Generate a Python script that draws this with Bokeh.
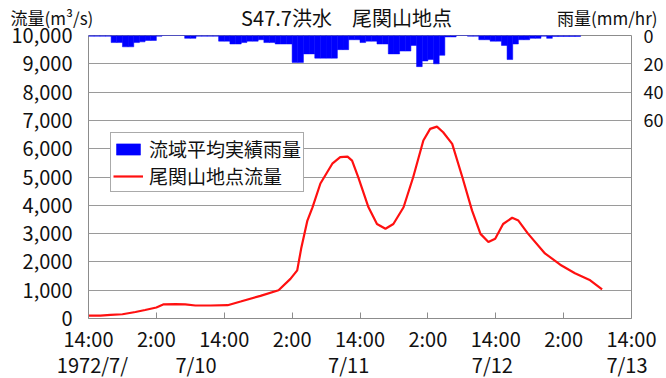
from bokeh.plotting import figure
from bokeh.layouts import column
from bokeh.models import (Range1d, LinearAxis, FixedTicker, NumeralTickFormatter,
                          Legend, LegendItem, ColumnDataSource)
from bokeh.core.properties import value
from bokeh.embed import file_html
from bokeh.resources import INLINE

# ---------------- data ----------------
# hours since 1972/7/9 14:00
flow_hours = [0, 2.1, 3.9, 6, 8.3, 10, 12, 13.3, 15.4, 17.1, 18.9, 21.6, 24.6, 26.9,
              30.4, 33.6, 35.7, 36.9, 37.6, 38.7, 39.6, 41, 43.1, 44.5, 45.8, 46.6,
              47.7, 49.5, 51, 52.5, 53.9, 55.7, 57.4, 59.2, 60.4, 61.6, 62.7, 64.3,
              66.1, 67.8, 69.3, 70.7, 71.9, 73.3, 74.9, 76, 77.7, 80.7, 83.4, 86,
              88.7, 90.8]
flow_values = [100, 100, 130, 150, 230, 300, 390, 500, 510, 500, 460, 460, 470, 600,
               800, 1000, 1400, 1700, 2470, 3460, 3930, 4770, 5470, 5700, 5720, 5580,
               4990, 3930, 3340, 3170, 3340, 3930, 4990, 6290, 6700, 6780, 6580, 6170,
               4990, 3820, 2990, 2700, 2820, 3340, 3560, 3460, 3000, 2300, 1900, 1600,
               1350, 1030]

rain_hours = list(range(0, 87))
rain_values = [0.5, 0.5, 0.5, 0.5, 5, 5, 8, 8, 5, 4.5, 3.5, 3.5, 0.5, 0, 0, 0, 0, 2, 2,
               0.5, 0.5, 0.5, 0.5, 4, 4, 6, 6, 5, 4, 4, 3, 5, 5, 6, 6, 6, 19, 19, 13,
               13, 16, 16, 16, 16, 10, 10, 3, 3, 5, 4, 4, 6, 6, 13, 13, 11, 11, 7, 22,
               18, 17, 20, 14, 1, 1, 0, 0, 0.5, 0.5, 3, 3, 4, 4, 7, 17, 6, 3, 3, 2, 2,
               0.5, 2, 0.7, 0.7, 0.7, 0.7, 0.7]

time_ticks = [0, 12, 24, 36, 48, 60, 72, 84, 96]
time_labels = ["14:00", "2:00", "14:00", "2:00", "14:00", "2:00", "14:00", "2:00", "14:00"]
date_ticks = [0.7, 19, 46, 71.4, 95.2]
date_labels = ["1972/7/", "7/10", "7/11", "7/12", "7/13"]
flow_ticks = list(range(0, 10001, 1000))
rain_ticks = [0, 20, 40, 60]

title_text = "S47.7洪水\u3000尾関山地点"
left_unit = "流量(m³/s)"
right_unit = "雨量(mm/hr)"
rain_name = "流域平均実績雨量"
flow_name = "尾関山地点流量"

FONT = "Noto Sans CJK JP"
FS = "20px"
TXT = "#111111"

# ---------------- header strip (title + units) ----------------
HEAD_H = 40
OVERLAP = 22
head = figure(width=658, height=HEAD_H, output_backend="svg", toolbar_location=None,
              x_range=Range1d(0, 658), y_range=Range1d(0, HEAD_H),
              min_border=0, outline_line_color=None)
try:
    head.frame_align = False
except Exception:
    pass
head.axis.visible = False
head.grid.visible = False
head.text(x=[346], y=[HEAD_H - 17], text=[title_text], text_font=value(FONT),
          text_font_size="20px", text_align="center", text_baseline="middle",
          text_color=TXT)
head.text(x=[10], y=[HEAD_H - 17], text=[left_unit], text_font=value(FONT),
          text_font_size="17px", text_align="left", text_baseline="middle",
          text_color=TXT)
head.text(x=[657], y=[HEAD_H - 17], text=[right_unit], text_font=value(FONT),
          text_font_size="17px", text_align="right", text_baseline="middle",
          text_color=TXT)

# ---------------- main figure ----------------
p = figure(frame_width=543, frame_height=283, output_backend="svg", toolbar_location=None,
           x_range=Range1d(0, 96), y_range=Range1d(0, 10000),
           min_border_left=88, min_border_right=27,
           min_border_top=35 - (HEAD_H - OVERLAP), min_border_bottom=50,
           margin=(-OVERLAP, 0, 0, 0))
try:
    p.frame_align = False
except Exception:
    pass
p.border_fill_color = None
p.extra_y_ranges = {"rain": Range1d(200, 0)}

p.outline_line_color = "#8c8c8c"
p.outline_line_width = 1
p.xgrid.visible = False
p.ygrid.ticker = FixedTicker(ticks=flow_ticks)
p.ygrid.grid_line_color = "#9a9a9a"
p.ygrid.grid_line_width = 1

# left axis
ya = p.yaxis[0]
ya.ticker = FixedTicker(ticks=flow_ticks)
ya.formatter = NumeralTickFormatter(format="0,0")
ya.major_tick_line_color = None
ya.minor_tick_line_color = None
ya.axis_line_color = None
ya.major_label_text_font = FONT
ya.major_label_text_font_size = FS
ya.major_label_text_color = TXT
ya.major_label_standoff = 10

# right axis
ra = LinearAxis(y_range_name="rain", ticker=FixedTicker(ticks=rain_ticks))
ra.major_tick_line_color = None
ra.minor_tick_line_color = None
ra.axis_line_color = None
ra.major_label_text_font = FONT
ra.major_label_text_font_size = "18px"
ra.major_label_text_color = TXT
ra.major_label_standoff = 6
p.add_layout(ra, "right")

# bottom time axis
xa = p.xaxis[0]
xa.ticker = FixedTicker(ticks=time_ticks)
xa.major_label_overrides = {t: l for t, l in zip(time_ticks, time_labels)}
xa.major_tick_in = 6
xa.major_tick_out = 0
xa.major_tick_line_color = "#8c8c8c"
xa.minor_tick_line_color = None
xa.axis_line_color = None
xa.major_label_text_font = FONT
xa.major_label_text_font_size = FS
xa.major_label_text_color = TXT
xa.major_label_standoff = 5

# bottom date axis (second label line)
da = LinearAxis(ticker=FixedTicker(ticks=date_ticks))
da.major_label_overrides = {t: l for t, l in zip(date_ticks, date_labels)}
da.major_tick_line_color = None
da.minor_tick_line_color = None
da.axis_line_color = None
da.major_label_text_font = FONT
da.major_label_text_font_size = FS
da.major_label_text_color = TXT
da.major_label_standoff = -12
p.add_layout(da, "below")

# rain bars
rsrc = ColumnDataSource(dict(x=[h + 0.5 for h in rain_hours], r=rain_values,
                             z=[0] * len(rain_values)))
bars = p.vbar(x="x", width=1, top="z", bottom="r", source=rsrc, y_range_name="rain",
              fill_color="#0000ff", line_color="#0000ff", line_width=0.5)

# flow line
fsrc = ColumnDataSource(dict(x=flow_hours, y=flow_values))
line = p.line("x", "y", source=fsrc, line_color="#ff1010", line_width=2.2)

legend = Legend(items=[LegendItem(label=rain_name, renderers=[bars]),
                       LegendItem(label=flow_name, renderers=[line])],
                location=(22, 126))
legend.label_text_font = FONT
legend.label_text_font_size = "19px"
legend.label_text_line_height = 1.0
legend.label_text_color = TXT
legend.glyph_width = 30
legend.glyph_height = 14
legend.label_height = 20
legend.label_standoff = 6
legend.spacing = 0
legend.padding = 2
legend.margin = 0
legend.border_line_color = "#555555"
legend.border_line_width = 1
legend.background_fill_alpha = 1
p.add_layout(legend, "center")

layout = column(head, p, spacing=0)
open("out.html", "w").write(file_html(layout, INLINE))
